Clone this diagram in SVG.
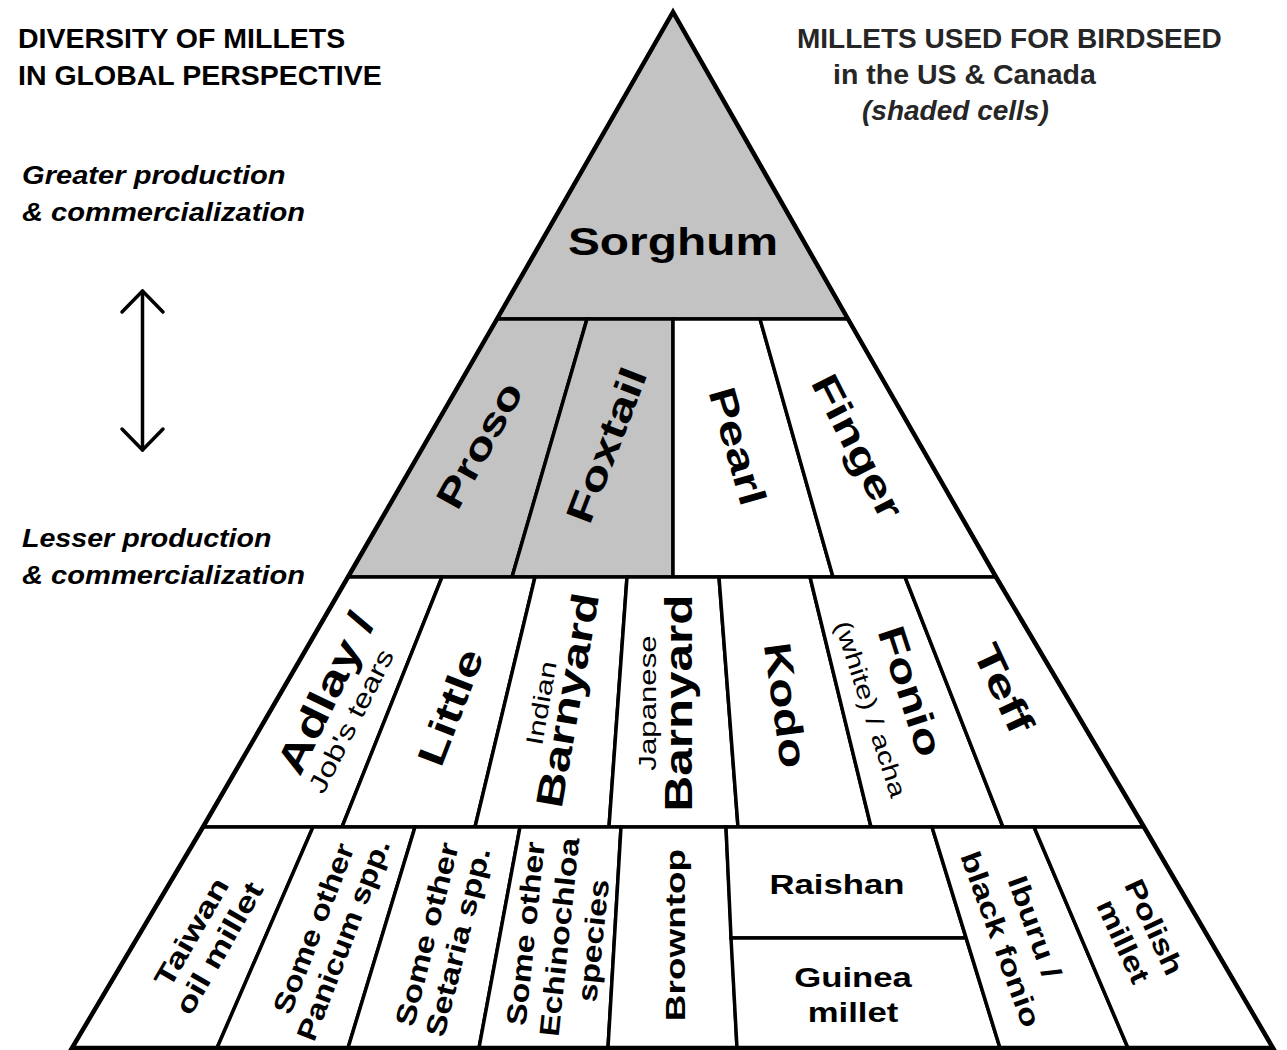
<svg xmlns="http://www.w3.org/2000/svg" width="1287" height="1050" viewBox="0 0 1287 1050">
<style>
.cell{stroke:#000;stroke-width:3.5;stroke-linejoin:miter}
.w{fill:#fff}
.g{fill:#c3c3c3}
.outline{fill:none;stroke:#000;stroke-width:4.5;stroke-linejoin:miter}
.b{font-family:"Liberation Sans",Arial,sans-serif;font-weight:700;fill:#000;text-anchor:middle}
.r{font-family:"Liberation Sans",Arial,sans-serif;font-weight:400;fill:#000;text-anchor:middle}
.hd{font-family:"Liberation Sans",Arial,sans-serif;font-weight:700;fill:#000}
.it{font-style:italic}
.gray{fill:#262626}
.arrow{fill:none;stroke:#000;stroke-width:3.5;stroke-linecap:round;stroke-linejoin:round}
</style>
<rect width="1287" height="1050" fill="#fff"/>

<g id="headers">
<text class="hd" font-size="28.5" x="18" y="48">DIVERSITY OF MILLETS</text>
<text class="hd" font-size="28.5" x="18" y="85">IN GLOBAL PERSPECTIVE</text>
<text class="hd it" font-size="26" transform="translate(22,184) scale(1.12,1)">Greater production</text>
<text class="hd it" font-size="26" transform="translate(22,221) scale(1.12,1)">&amp; commercialization</text>
<text class="hd it" font-size="26" transform="translate(22,547) scale(1.1,1)">Lesser production</text>
<text class="hd it" font-size="26" transform="translate(22,584) scale(1.12,1)">&amp; commercialization</text>
<text class="hd gray" font-size="28" x="797" y="48">MILLETS USED FOR BIRDSEED</text>
<text class="hd gray" font-size="28.5" x="833" y="84">in the US &amp; Canada</text>
<text class="hd gray it" font-size="28" x="862" y="120">(shaded cells)</text>
</g>

<g id="connectors">
<line class="arrow" x1="142.5" y1="291" x2="142.5" y2="450"/>
<polyline class="arrow" points="122,312 142.5,291 163,312"/>
<polyline class="arrow" points="122,429 142.5,450 163,429"/>
</g>

<g id="sorghum"><polygon class="cell g" points="673,12 848,319 497,319"/>
<text class="b" font-size="38" transform="translate(673,241) scale(1.26,1)" y="13.6">Sorghum</text></g>

<g id="proso"><polygon class="cell g" points="497,319 587,319 512,577 348,577"/>
<text class="b" font-size="38" transform="translate(479,445) rotate(-61) scale(1.28,1)" y="13.6">Proso</text></g>
<g id="foxtail"><polygon class="cell g" points="587,319 673,319 673,577 512,577"/>
<text class="b" font-size="38" transform="translate(606,445) rotate(-69) scale(1.33,1)" y="13.6">Foxtail</text></g>
<g id="pearl"><polygon class="cell w" points="673,319 760,319 833,577 673,577"/>
<text class="b" font-size="38" transform="translate(738,446) rotate(74) scale(1.3,1)" y="13.6">Pearl</text></g>
<g id="finger"><polygon class="cell w" points="760,319 848,319 996,577 833,577"/>
<text class="b" font-size="38" transform="translate(858,446) rotate(63) scale(1.35,1)" y="13.6">Finger</text></g>

<g id="adlay"><polygon class="cell w" points="348,577 442,577 342,827 203,827"/>
<text class="b" font-size="40" transform="translate(325,693) rotate(-64) scale(1.33,1)" y="14.3">Adlay /</text>
<text class="r" font-size="26" transform="translate(351,721) rotate(-63) scale(1.26,1)" y="9">Job's tears</text></g>
<g id="little"><polygon class="cell w" points="442,577 535,577 475,827 342,827"/>
<text class="b" font-size="38" transform="translate(450,707) rotate(-69) scale(1.34,1)" y="13.6">Little</text></g>
<g id="indian-barnyard"><polygon class="cell w" points="535,577 627,577 609,827 475,827"/>
<text class="r" font-size="24" transform="translate(541,703) rotate(-80) scale(1.3,1)" y="8.5">Indian</text>
<text class="b" font-size="38" transform="translate(567,700) rotate(-80) scale(1.3,1)" y="13.6">Barnyard</text></g>
<g id="japanese-barnyard"><polygon class="cell w" points="627,577 719,577 738,827 609,827"/>
<text class="r" font-size="24" transform="translate(647,703) rotate(-90) scale(1.3,1)" y="8.5">Japanese</text>
<text class="b" font-size="38" transform="translate(678,703) rotate(-90) scale(1.3,1)" y="13.6">Barnyard</text></g>
<g id="kodo"><polygon class="cell w" points="719,577 810,577 871,827 738,827"/>
<text class="b" font-size="38" transform="translate(786,705) rotate(82) scale(1.3,1)" y="13.6">Kodo</text></g>
<g id="fonio"><polygon class="cell w" points="810,577 905,577 1003,827 871,827"/>
<text class="b" font-size="38" transform="translate(911,691) rotate(72) scale(1.3,1)" y="13.6">Fonio</text>
<text class="r" font-size="24" transform="translate(871,709) rotate(72) scale(1.28,1)" y="8.5">(white) / acha</text></g>
<g id="teff"><polygon class="cell w" points="905,577 996,577 1144,827 1003,827"/>
<text class="b" font-size="38" transform="translate(1004,688) rotate(65) scale(1.4,1)" y="13.6">Teff</text></g>

<g id="taiwan"><polygon class="cell w" points="203,827 313,827 217,1048 72,1048"/>
<text class="b" font-size="28" transform="translate(205,940) rotate(-60) scale(1.3,1)"><tspan x="0" y="-6">Taiwan</tspan><tspan x="0" y="26">oil millet</tspan></text></g>
<g id="panicum"><polygon class="cell w" points="313,827 415,827 348,1048 217,1048"/>
<text class="b" font-size="28" transform="translate(328,934) rotate(-69) scale(1.17,1)"><tspan x="0" y="-6">Some other</tspan><tspan x="0" y="26">Panicum spp.</tspan></text></g>
<g id="setaria"><polygon class="cell w" points="415,827 520,827 479,1048 348,1048"/>
<text class="b" font-size="28" transform="translate(442,938) rotate(-76) scale(1.22,1)"><tspan x="0" y="-6">Some other</tspan><tspan x="0" y="26">Setaria spp.</tspan></text></g>
<g id="echinochloa"><polygon class="cell w" points="520,827 621,827 608,1048 479,1048"/>
<text class="b" font-size="28" transform="translate(559,937) rotate(-84) scale(1.2,1)"><tspan x="0" y="-24">Some other</tspan><tspan x="0" y="10">Echinochloa</tspan><tspan x="0" y="44">species</tspan></text></g>
<g id="browntop"><polygon class="cell w" points="621,827 726,827 737,1048 608,1048"/>
<text class="b" font-size="28" transform="translate(675,935) rotate(-90) scale(1.32,1)" y="10">Browntop</text></g>
<g id="raishan"><polygon class="cell w" points="726,827 932,827 966,938 731,938"/>
<text class="b" font-size="28" transform="translate(837,884) scale(1.24,1)" y="10">Raishan</text></g>
<g id="guinea"><polygon class="cell w" points="731,938 966,938 1000,1048 737,1048"/>
<text class="b" font-size="28" transform="translate(853,0) scale(1.24,1)"><tspan x="0" y="987">Guinea</tspan><tspan x="0" y="1022">millet</tspan></text></g>
<g id="iburu"><polygon class="cell w" points="932,827 1034,827 1128,1048 1000,1048"/>
<text class="b" font-size="28" transform="translate(1018,933) rotate(70) scale(1.25,1)"><tspan x="0" y="-8">Iburu /</tspan><tspan x="0" y="28">black fonio</tspan></text></g>
<g id="polish"><polygon class="cell w" points="1034,827 1144,827 1273,1048 1128,1048"/>
<text class="b" font-size="28" transform="translate(1139,934) rotate(65) scale(1.22,1)"><tspan x="0" y="-7">Polish</tspan><tspan x="0" y="27">millet</tspan></text></g>

<g id="pyramid-outline">
<path class="outline" d="M673,12 L497,319 L348,577 L203,827 L72,1048 L1273,1048 L1144,827 L996,577 L848,319 Z"/>
</g>
</svg>
